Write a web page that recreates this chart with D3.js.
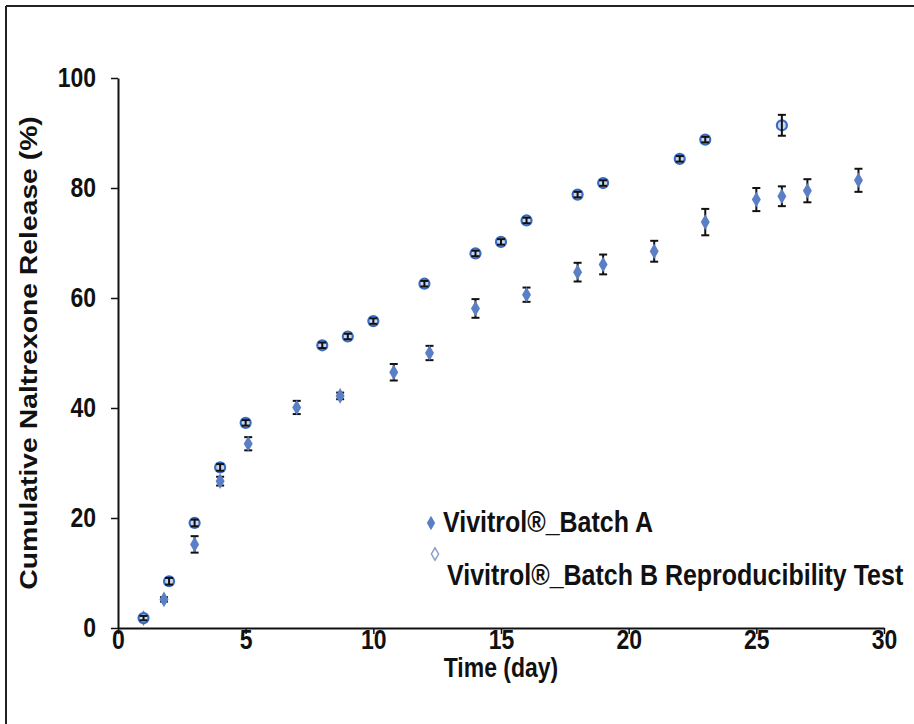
<!DOCTYPE html>
<html>
<head>
<meta charset="utf-8">
<script src="https://cdn.jsdelivr.net/npm/d3@7"></script>
<style>
  body { margin: 0; background: #fff; }
  svg text { font-family: "Liberation Sans", Arial, sans-serif; font-weight: bold; fill: #111; }
</style>
</head>
<body>
<svg id="chart" width="914" height="724"></svg>
<script>
// Batch A (filled diamonds)
const daysA = [1, 1.8, 3, 4, 5.1, 7, 8.7, 10.8, 12.2, 14, 16, 18, 19, 21, 23, 25, 26, 27, 29];
const releaseA = [1.8, 5.2, 15.2, 26.7, 33.5, 40.1, 42.2, 46.5, 50.0, 58.1, 60.6, 64.7, 66.1, 68.5, 73.8, 77.9, 78.5, 79.5, 81.4];
const errA = [0.5, 0.4, 1.5, 0.8, 1.2, 1.2, 0.6, 1.5, 1.3, 1.7, 1.3, 1.7, 1.8, 1.9, 2.4, 2.1, 1.8, 2.1, 2.1];

// Batch B reproducibility test (open markers)
const daysB = [1, 2, 3, 4, 5, 8, 9, 10, 12, 14, 15, 16, 18, 19, 22, 23, 26];
const releaseB = [1.8, 8.5, 19.1, 29.2, 37.3, 51.4, 53.0, 55.8, 62.6, 68.1, 70.2, 74.1, 78.8, 80.9, 85.3, 88.8, 91.4];
const errB = [0.4, 0.6, 0.6, 0.6, 0.5, 0.5, 0.5, 0.5, 0.5, 0.5, 0.5, 0.5, 0.5, 0.5, 0.5, 0.5, 1.9];

const xTicks = [0, 5, 10, 15, 20, 25, 30];
const yTicks = [0, 20, 40, 60, 80, 100];
const legendLabels = ['Vivitrol®_Batch A', 'Vivitrol®_Batch B Reproducibility Test'];

const svg = d3.select('#chart');
const blue = '#5b7fc6';
const stretch = 1.18; // the source figure is a bit taller than wide, text included

// frame (top and left edge of the original figure box)
svg.append('line').attr('x1', 6).attr('x2', 914).attr('y1', 6).attr('y2', 6)
    .attr('stroke', '#222').attr('stroke-width', 2);
svg.append('line').attr('x1', 6).attr('x2', 6).attr('y1', 6).attr('y2', 724)
    .attr('stroke', '#222').attr('stroke-width', 2);

const x = d3.scaleLinear().domain([0, 30]).range([118, 884]);
const y = d3.scaleLinear().domain([0, 100]).range([628, 78]);

const xAxis = svg.append('g')
    .attr('transform', `translate(0,${y(0)})`)
    .call(d3.axisBottom(x).tickValues(xTicks).tickSize(6).tickPadding(0).tickSizeOuter(0));
const yAxis = svg.append('g')
    .attr('transform', `translate(${x(0)},0)`)
    .call(d3.axisLeft(y).tickValues(yTicks).tickSize(7).tickPadding(0).tickSizeOuter(0));

[xAxis, yAxis].forEach(g => {
    g.select('.domain').attr('stroke', '#111').attr('stroke-width', 2);
    g.selectAll('.tick line').attr('stroke', '#111').attr('stroke-width', 1.5);
    g.selectAll('.tick text').style('font-size', '23px').attr('fill', '#111').attr('dy', null);
});
// stretched tick labels
xAxis.selectAll('.tick text')
    .attr('y', null)
    .attr('transform', `translate(0,21) scale(1,${stretch})`);
yAxis.selectAll('.tick text')
    .attr('x', null)
    .attr('text-anchor', 'end')
    .attr('transform', `translate(-22,8) scale(1,${stretch})`);

// error bars
function errorBars(days, vals, errs) {
    const g = svg.append('g').attr('stroke', '#111').attr('stroke-width', 2);
    days.forEach((d, i) => {
        const cx = x(d), y1 = y(vals[i] + errs[i]), y2 = y(vals[i] - errs[i]);
        g.append('line').attr('x1', cx).attr('x2', cx).attr('y1', y1).attr('y2', y2);
        g.append('line').attr('x1', cx - 4).attr('x2', cx + 4).attr('y1', y1).attr('y2', y1);
        g.append('line').attr('x1', cx - 4).attr('x2', cx + 4).attr('y1', y2).attr('y2', y2);
    });
}

errorBars(daysA, releaseA, errA);

const diamond = d3.symbol().type(d3.symbolDiamond).size(70);
svg.append('g').selectAll('path')
    .data(daysA)
    .enter().append('path')
    .attr('d', diamond)
    .attr('transform', (d, i) => `translate(${x(d)},${y(releaseA[i])})`)
    .attr('fill', blue);

svg.append('g').selectAll('circle')
    .data(daysB)
    .enter().append('circle')
    .attr('cx', d => x(d))
    .attr('cy', (d, i) => y(releaseB[i]))
    .attr('r', 5)
    .attr('fill', '#c9d7f0')
    .attr('stroke', '#3a6bc2')
    .attr('stroke-width', 2.2);

errorBars(daysB, releaseB, errB);

// axis titles
function label(tx, ty, size, txt, anchor) {
    return svg.append('text')
        .attr('transform', `translate(${tx},${ty}) scale(1,${stretch})`)
        .attr('text-anchor', anchor || 'start')
        .style('font-size', size + 'px')
        .text(txt);
}

label(501, 677, 23, 'Time (day)', 'middle');

svg.append('text')
    .attr('transform', `translate(37,${(y(0) + y(100)) / 2}) rotate(-90) scale(${stretch},1)`)
    .attr('text-anchor', 'middle')
    .style('font-size', '24px')
    .text('Cumulative Naltrexone Release (%)');

// legend
svg.append('path')
    .attr('d', d3.symbol().type(d3.symbolDiamond).size(60))
    .attr('transform', 'translate(431,523)')
    .attr('fill', blue);
label(443, 532, 25, legendLabels[0]);

svg.append('path')
    .attr('d', d3.symbol().type(d3.symbolDiamond).size(45))
    .attr('transform', 'translate(435,554)')
    .attr('fill', '#fff').attr('stroke', '#8aa0c8').attr('stroke-width', 1.5);
label(447, 585, 25, legendLabels[1]);
</script>
</body>
</html>
